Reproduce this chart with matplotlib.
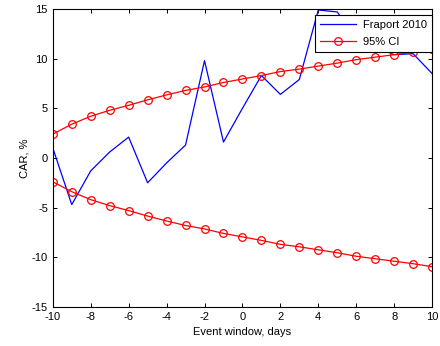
import matplotlib
matplotlib.use('Agg')
import matplotlib.pyplot as plt

plt.rcParams['font.family'] = ['Liberation Sans', 'DejaVu Sans']
plt.rcParams['axes.unicode_minus'] = False

days = list(range(-10, 11))
car = [1.0, -4.7, -1.3, 0.6, 2.1, -2.5, -0.5, 1.3, 9.8, 1.6, 5.0,
       8.3, 6.4, 7.9, 14.9, 14.7, 12.0, 11.2, 10.4, 10.5, 8.5]
ci_upper = [2.4, 3.4, 4.2, 4.8, 5.3, 5.85, 6.35, 6.8, 7.15, 7.6, 7.95,
            8.3, 8.7, 8.95, 9.25, 9.55, 9.9, 10.15, 10.4, 10.65, 10.95]
ci_lower = [-v for v in ci_upper]

fig = plt.figure(figsize=(4.4, 3.46), dpi=100)
ax = fig.add_axes([0.12, 0.113, 0.862, 0.861])

ax.plot(days, car, color='blue', lw=0.9, label='Fraport 2010')
ax.plot(days, ci_upper, color='red', lw=0.9, marker='o', ms=5.5,
        mfc='none', mec='red', mew=0.9, label='95% CI')
ax.plot(days, ci_lower, color='red', lw=0.9, marker='o', ms=5.5,
        mfc='none', mec='red', mew=0.9)

ax.set_xlim(-10, 10)
ax.set_ylim(-15, 15)
ax.set_xticks(range(-10, 11, 2))
ax.set_yticks(range(-15, 16, 5))
ax.tick_params(direction='in', top=True, right=True, labelsize=8, length=3, width=0.7)
for s in ax.spines.values():
    s.set_linewidth(0.8)
ax.set_xlabel('Event window, days', fontsize=8, labelpad=4)
ax.set_ylabel('CAR, %', fontsize=8, labelpad=2)

leg = ax.legend(loc='upper right', bbox_to_anchor=(1.0, 0.981), fontsize=8,
                fancybox=False, framealpha=1, edgecolor='black',
                borderaxespad=0, borderpad=0.5, labelspacing=0.6,
                handlelength=3.2, handletextpad=0.6)
leg.get_frame().set_linewidth(0.8)

fig.savefig('out.png', dpi=100)
